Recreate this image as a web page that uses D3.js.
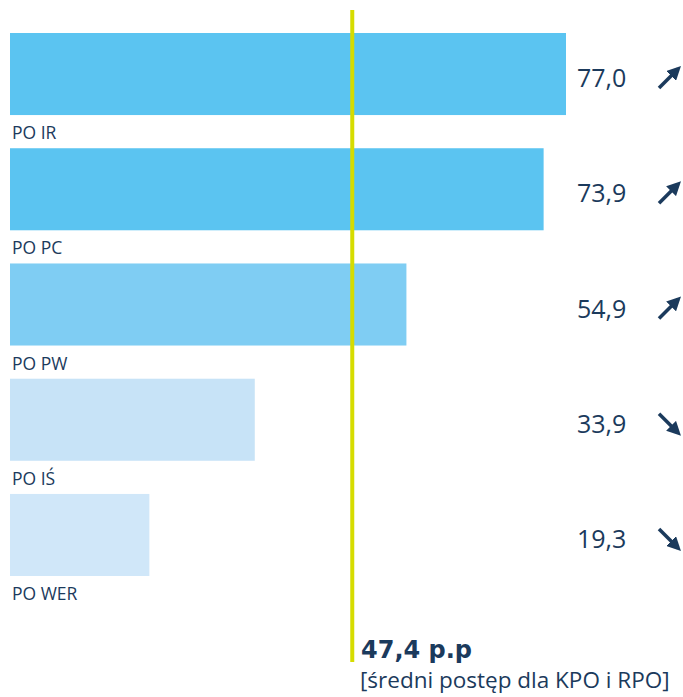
<!DOCTYPE html>
<html>
<head>
<meta charset="utf-8">
<script src="https://cdn.jsdelivr.net/npm/d3@7"></script>
<style>
  body { margin: 0; background: #fff; }
  svg { display: block; }
</style>
</head>
<body>
<div id="chart"></div>
<script>
// programme names, progress values and trend direction
const categories = ['PO IR', 'PO PC', 'PO PW', 'PO IŚ', 'PO WER'];
const values = [77.0, 73.9, 54.9, 33.9, 19.3];
const trends = ['up', 'up', 'up', 'down', 'down'];
const barColors = ['#5bc4f1', '#5bc4f1', '#7fcdf3', '#c7e3f7', '#d0e7f9'];
const average = 47.4;
const averageLabel = '47,4 p.p';
const averageNote = '[średni postęp dla KPO i RPO]';

const width = 683, height = 697;
const ink = '#1b3a5c';
const fmt = v => v.toFixed(1).replace('.', ',');

const svg = d3.select('#chart').append('svg')
    .attr('width', width)
    .attr('height', height);

const x = d3.scaleLinear()
    .domain([0, 77])
    .range([10, 566]);

const y = d3.scaleBand()
    .domain(categories)
    .range([33, 576])
    .paddingInner(0.288)
    .paddingOuter(0);

const rows = categories.map((c, i) => ({ name: c, value: values[i], trend: trends[i], color: barColors[i] }));

// bars
svg.append('g').selectAll('rect')
    .data(rows)
    .join('rect')
        .attr('x', x(0))
        .attr('y', d => y(d.name))
        .attr('width', d => x(d.value) - x(0))
        .attr('height', y.bandwidth())
        .style('fill', d => d.color);

// category labels under each bar
svg.append('g').selectAll('text')
    .data(rows)
    .join('text')
        .attr('x', 12)
        .attr('y', d => y(d.name) + y.bandwidth() + 24)
        .style('font-family', '"Open Sans", sans-serif')
        .style('font-size', '17.5px')
        .style('fill', ink)
        .text(d => d.name);

// value labels
svg.append('g').selectAll('text')
    .data(rows)
    .join('text')
        .attr('x', 577)
        .attr('y', d => y(d.name) + y.bandwidth() / 2 + 13)
        .style('font-family', '"Open Sans", sans-serif')
        .style('font-size', '25px')
        .style('fill', ink)
        .text(d => fmt(d.value));

// trend arrows
svg.append('defs').append('marker')
    .attr('id', 'head')
    .attr('viewBox', '0 0 10 10')
    .attr('refX', 7)
    .attr('refY', 5)
    .attr('markerWidth', 4)
    .attr('markerHeight', 4)
    .attr('orient', 'auto')
    .append('path')
        .attr('d', 'M0,0L10,5L0,10Z')
        .style('fill', ink);

const arrowY = d => y(d.name) + y.bandwidth() / 2 + 4;

svg.append('g').selectAll('line')
    .data(rows)
    .join('line')
        .attr('x1', 659)
        .attr('x2', 678)
        .attr('y1', d => d.trend === 'up' ? arrowY(d) + 10 : arrowY(d) - 10)
        .attr('y2', d => d.trend === 'up' ? arrowY(d) - 9 : arrowY(d) + 9)
        .style('stroke', ink)
        .style('stroke-width', 3.5)
        .attr('marker-end', 'url(#head)');

// average line
svg.append('line')
    .attr('x1', x(average))
    .attr('x2', x(average))
    .attr('y1', 10)
    .attr('y2', 662)
    .style('stroke', '#d6dc00')
    .style('stroke-width', 4);

svg.append('text')
    .attr('x', 361)
    .attr('y', 658)
    .style('font-family', '"DejaVu Sans", sans-serif')
    .style('font-weight', 'bold')
    .style('font-size', '24px')
    .style('fill', ink)
    .text(averageLabel);

svg.append('text')
    .attr('x', 360)
    .attr('y', 688)
    .style('font-family', '"Open Sans", sans-serif')
    .style('font-size', '22.5px')
    .style('fill', ink)
    .text(averageNote);
</script>
</body>
</html>
